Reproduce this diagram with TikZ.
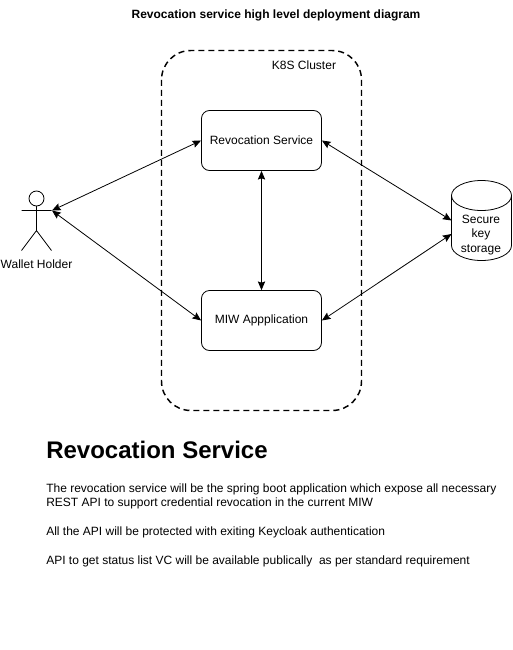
\documentclass[tikz,border=0pt]{standalone}
\usepackage{fontspec}
\setmainfont{Liberation Sans}
\usetikzlibrary{arrows.meta}
\tikzset{
	pxbox/.style={draw, rounded corners=6pt, minimum width=90pt, minimum height=45pt, inner sep=0pt, font=\fontsize{9}{11}\selectfont, line width=0.6pt},
	lbl/.style={inner sep=0pt, font=\fontsize{9}{11}\selectfont},
	para/.style={inner sep=0pt, anchor=north west, align=left, font=\fontsize{9}{10.5}\selectfont},
	link/.style={{Stealth[length=6.5pt,width=5.5pt,inset=1pt]}-{Stealth[length=6.5pt,width=5.5pt,inset=1pt]}, line width=0.6pt}
}
\begin{document}
\begin{tikzpicture}[x=0.75pt, y=-0.75pt]
	\useasboundingbox (0,0) rectangle (512,650);
	\node[lbl, font=\fontsize{9}{11}\selectfont\bfseries] (title) at (276,15) {Revocation service high level deployment diagram};

	\draw[dashed, line width=1.1pt, dash pattern=on 4.5pt off 3pt, rounded corners=22pt] (161.5,50.5) rectangle (361.5,410.5);
	\node[lbl] (cluster) at (304,65) {K8S Cluster};

	\node[pxbox] (revocation) at (261.5,140.5) {Revocation Service};
	\node[pxbox] (miw) at (261.5,320.5) {MIW Appplication};

	% wallet holder
	\draw[line width=0.6pt] (36.5,198.5) circle (7.5);
	\draw[line width=0.6pt] (36.5,206) -- (36.5,230.5) (21.5,210.5) -- (51.5,210.5)
		(36.5,230.5) -- (21.5,250.5) (36.5,230.5) -- (51.5,250.5);
	\coordinate (holder) at (52,210.5);
	\node[lbl] (holderlabel) at (36.5,264) {Wallet Holder};

	% storage
	\draw[line width=0.6pt] (451.5,195.5) arc[start angle=180, end angle=0, x radius=22.5pt, y radius=11.25pt]
		-- (511.5,245.5) arc[start angle=0, end angle=-180, x radius=22.5pt, y radius=11.25pt] -- cycle;
	\draw[line width=0.6pt] (451.5,195.5) arc[start angle=180, end angle=360, x radius=22.5pt, y radius=11.25pt];
	\node[lbl, align=center] (storagelabel) at (481,235) {Secure\\key\\storage};
	\coordinate (storagea) at (451.5,220.5);
	\coordinate (storageb) at (451.5,234);

	\draw[link] (holder) -- (revocation.west);
	\draw[link] (holder) -- (miw.west);
	\draw[link] (revocation.south) -- (miw.north);
	\draw[link] (revocation.east) -- (storagea);
	\draw[link] (miw.east) -- (storageb);

	\node[para, font=\fontsize{18}{22}\selectfont\bfseries] (heading) at (46,440.5) {Revocation Service};
	\node[para] (parab) at (46,483.5) {The revocation service will be the spring boot application which expose all necessary\\REST API to support credential revocation in the current MIW};
	\node[para] (parac) at (46,527) {All the API will be protected with exiting Keycloak authentication};
	\node[para] (parad) at (46,556) {API to get status list VC will be available publically\ \ as per standard requirement};
\end{tikzpicture}
\end{document}
